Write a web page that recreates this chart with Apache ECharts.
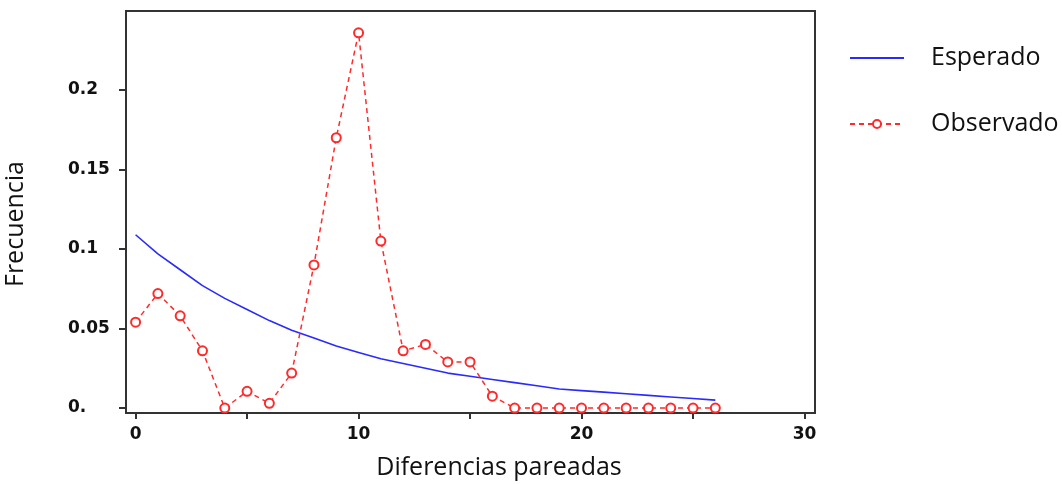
<!DOCTYPE html>
<html>
<head>
<meta charset="utf-8">
<script src="https://cdn.jsdelivr.net/npm/echarts@6/dist/echarts.min.js"></script>
<style>
html,body{margin:0;padding:0;background:#fff;}
#chart{width:1062px;height:484px;}
</style>
</head>
<body>
<div id="chart"></div>
<script>
// Data
var xValues = [0,1,2,3,4,5,6,7,8,9,10,11,12,13,14,15,16,17,18,19,20,21,22,23,24,25,26];
var esperado = [0.109,0.097,0.087,0.077,0.069,0.062,0.055,0.049,0.044,0.039,0.035,0.031,0.028,0.025,0.022,0.020,0.018,0.016,0.014,0.012,0.011,0.010,0.009,0.008,0.007,0.006,0.005];
var observado = [0.054,0.072,0.058,0.036,0.000,0.0105,0.003,0.022,0.090,0.170,0.236,0.105,0.036,0.040,0.029,0.029,0.0075,0,0,0,0,0,0,0,0,0,0];
var xTickValues = [0,5,10,15,20,25,30];
var xLabelValues = [0,10,20,30];
var yTickValues = [0,0.05,0.1,0.15,0.2];
var seriesNames = ['Esperado','Observado'];
var xTitle = 'Diferencias pareadas';
var yTitle = 'Frecuencia';

function pairs(xs, ys){ return xs.map(function(x,i){ return [x, ys[i]]; }); }

var tickFont = {fontFamily:'DejaVu Sans', fontWeight:'bold', fontSize:17, color:'#111'};
var chart = echarts.init(document.getElementById('chart'), null, {renderer:'canvas'});
chart.setOption({
  animation:false,
  backgroundColor:'#fff',
  grid:{left:126, right:247, top:11, bottom:71, show:true, borderColor:'#333', borderWidth:2, backgroundColor:'transparent'},
  xAxis:{
    type:'value', min:-0.43, max:30.47,
    axisLine:{show:true, onZero:false, lineStyle:{color:'#333', width:2}},
    axisTick:{show:true, length:6, customValues:xTickValues, lineStyle:{color:'#333', width:2}},
    axisLabel:Object.assign({customValues:xLabelValues, margin:13, showMinLabel:true, showMaxLabel:true}, tickFont),
    splitLine:{show:false}
  },
  yAxis:{
    type:'value', min:-0.0031, max:0.2497,
    axisLine:{show:true, onZero:false, lineStyle:{color:'#333', width:2}},
    axisTick:{show:true, length:7, customValues:yTickValues, lineStyle:{color:'#333', width:2}},
    axisLabel:Object.assign({customValues:yTickValues, margin:58, align:'left',
      formatter:function(v){ return v===0 ? '0.' : String(+v.toFixed(2)); }}, tickFont),
    splitLine:{show:false}
  },
  legend:{
    orient:'vertical', left:849, top:43, padding:0, itemWidth:54, itemHeight:10, itemGap:36,
    data:[{name:seriesNames[0], itemStyle:{opacity:0}}, {name:seriesNames[1]}],
    textStyle:{fontFamily:'Open Sans', fontSize:25, color:'#111', lineHeight:30, padding:[0,0,0,22]}
  },
  graphic:[
    {type:'text', x:499, y:468, style:{text:xTitle, font:'25px "Open Sans"', fill:'#111', textAlign:'center', textVerticalAlign:'middle'}},
    {type:'text', rotation:Math.PI/2, x:28, y:224, style:{text:yTitle, font:'25px "Open Sans"', fill:'#111', textAlign:'center', textVerticalAlign:'bottom'}}
  ],
  series:[
    {name:seriesNames[0], type:'line', data:pairs(xValues, esperado), showSymbol:false, symbol:'none',
     lineStyle:{color:'#2a2aff', width:1.6}, itemStyle:{color:'#2a2aff'}, z:2},
    {name:seriesNames[1], type:'line', data:pairs(xValues, observado), symbol:'emptyCircle', symbolSize:9,
     lineStyle:{color:'#ff2a2a', width:1.5, type:[5,4]},
     itemStyle:{color:'#ff2a2a', borderColor:'#ff2a2a', borderWidth:1.5}, z:3}
  ]
});
</script>
</body>
</html>
